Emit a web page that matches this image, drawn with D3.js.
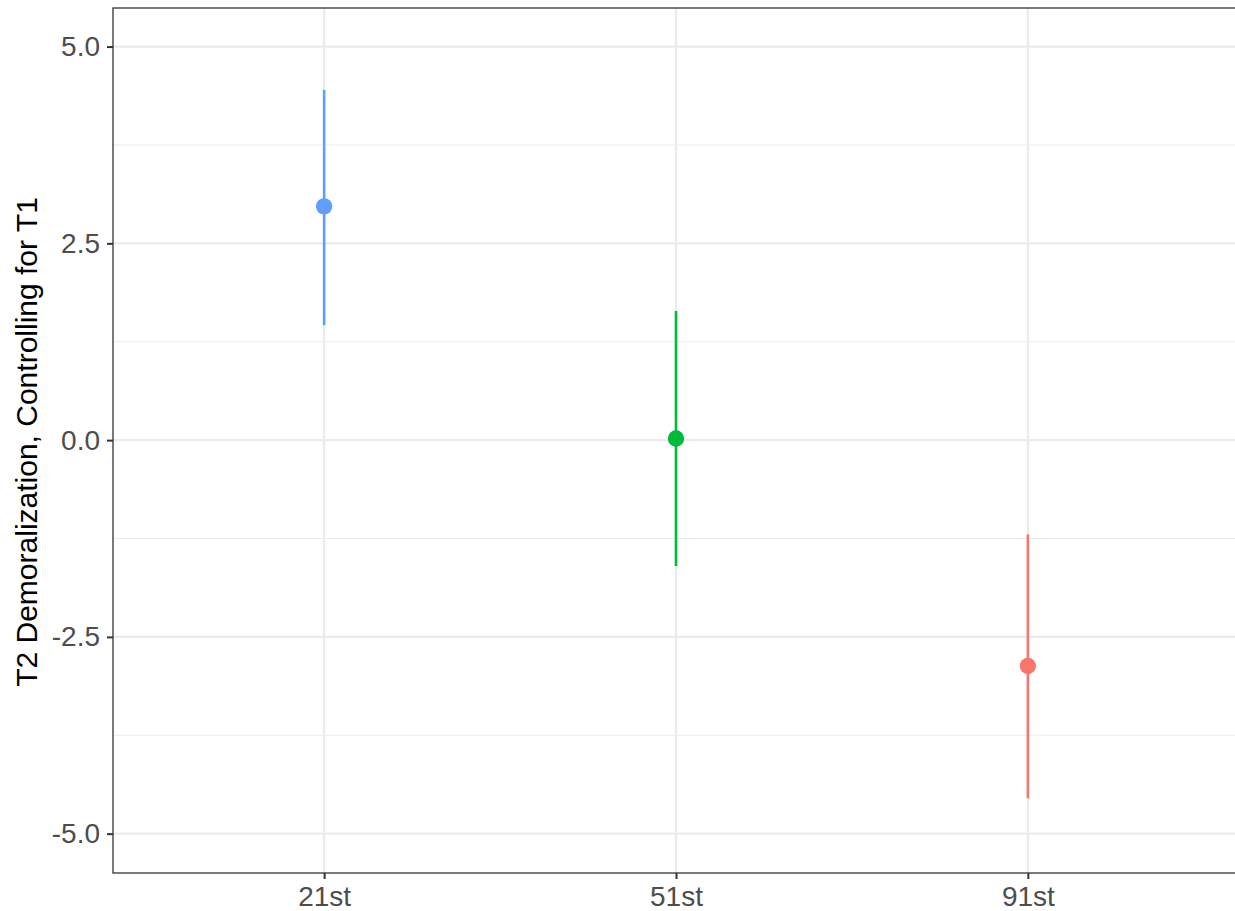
<!DOCTYPE html>
<html>
<head>
<meta charset="utf-8">
<script src="https://cdn.jsdelivr.net/npm/d3@7"></script>
<style>
  html, body { margin: 0; padding: 0; background: #fff; }
  svg { display: block; font-family: "Liberation Sans", Arial, sans-serif; }
</style>
</head>
<body>
<svg id="chart" width="1235" height="911"></svg>
<script>
// values
const groups = ["21st", "51st", "91st"];
const estimates = [2.97, 0.02, -2.87];
const lowerCI = [1.46, -1.60, -4.55];
const upperCI = [4.45, 1.64, -1.20];
const groupColors = ["#619CFF", "#00BA38", "#F8766D"];
const yTicks = [-5.0, -2.5, 0.0, 2.5, 5.0];
const yMinorTicks = [-3.75, -1.25, 1.25, 3.75];
const yLabel = "T2 Demoralization, Controlling for T1";

const svg = d3.select("#chart");
const margin = { left: 113, top: 8, bottom: 873 };
const panelRight = 1239; // panel border runs past the right edge of the picture

const x = d3.scalePoint()
    .domain(groups)
    .range([margin.left, panelRight])
    .padding(0.6);

const y = d3.scaleLinear()
    .domain([-5.5, 5.49])
    .range([margin.bottom, margin.top]);

// grid
const grid = svg.append("g");
grid.selectAll("line.minor")
    .data(yMinorTicks)
    .enter().append("line")
    .attr("x1", margin.left).attr("x2", panelRight)
    .attr("y1", d => y(d)).attr("y2", d => y(d))
    .attr("stroke", "#ebebeb").attr("stroke-width", 1.1);
grid.selectAll("line.major")
    .data(yTicks)
    .enter().append("line")
    .attr("x1", margin.left).attr("x2", panelRight)
    .attr("y1", d => y(d)).attr("y2", d => y(d))
    .attr("stroke", "#ebebeb").attr("stroke-width", 2.2);
grid.selectAll("line.vx")
    .data(groups)
    .enter().append("line")
    .attr("x1", d => x(d)).attr("x2", d => x(d))
    .attr("y1", margin.top).attr("y2", margin.bottom)
    .attr("stroke", "#ebebeb").attr("stroke-width", 2.2);

// error bars + points
const marks = svg.append("g");
groups.forEach((g, i) => {
    marks.append("line")
        .attr("x1", x(g)).attr("x2", x(g))
        .attr("y1", y(lowerCI[i])).attr("y2", y(upperCI[i]))
        .attr("stroke", groupColors[i])
        .attr("stroke-width", 2.6);
    marks.append("circle")
        .attr("cx", x(g)).attr("cy", y(estimates[i]))
        .attr("r", 8.2)
        .attr("fill", groupColors[i]);
});

// panel border
svg.append("rect")
    .attr("x", margin.left).attr("y", margin.top)
    .attr("width", panelRight - margin.left)
    .attr("height", margin.bottom - margin.top)
    .attr("fill", "none")
    .attr("stroke", "#333333")
    .attr("stroke-width", 1.3);

// axes
const yAxis = svg.append("g")
    .attr("transform", `translate(${margin.left},0)`)
    .call(d3.axisLeft(y).tickValues(yTicks).tickFormat(d3.format(".1f")).tickSize(6).tickPadding(7));
yAxis.select(".domain").remove();
yAxis.selectAll(".tick line").attr("stroke", "#333333").attr("stroke-width", 2);
yAxis.selectAll(".tick text")
    .attr("fill", "#4d4d4d")
    .style("font-size", "28px")
    .text(d => d3.format(".1f")(d).replace("−", "-"));

const xAxis = svg.append("g")
    .attr("transform", `translate(0,${margin.bottom})`)
    .call(d3.axisBottom(x).tickSize(6).tickPadding(7));
xAxis.select(".domain").remove();
xAxis.selectAll(".tick line").attr("stroke", "#333333").attr("stroke-width", 2);
xAxis.selectAll(".tick text")
    .attr("fill", "#4d4d4d")
    .style("font-size", "28px");

// y title
svg.append("text")
    .attr("transform", `translate(37,442) rotate(-90)`)
    .attr("text-anchor", "middle")
    .attr("fill", "#000")
    .style("font-size", "30px")
    .text(yLabel);
</script>
</body>
</html>
